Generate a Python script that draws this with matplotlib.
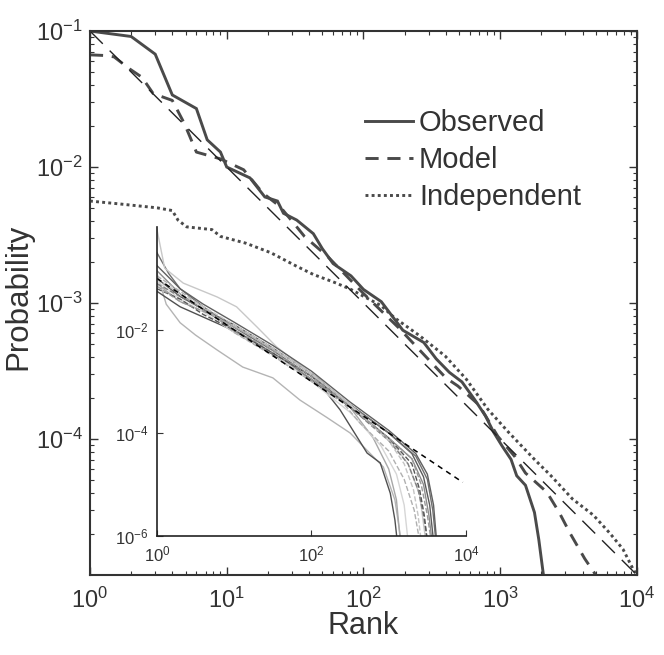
import numpy as np
import matplotlib
matplotlib.use("Agg")
from matplotlib import pyplot as plt

plt.rcParams['font.family'] = ['Liberation Sans', 'DejaVu Sans']
plt.rcParams['mathtext.fontset'] = 'custom'
plt.rcParams['mathtext.rm'] = 'Liberation Sans'
plt.rcParams['mathtext.it'] = 'Liberation Sans:italic'
plt.rcParams['mathtext.bf'] = 'Liberation Sans:bold'

# main panel data (rank, log10 probability)
obs_rank = [1, 2, 3, 4, 6, 7.2, 9, 10, 14.8, 19, 23.5, 26, 32.5, 43, 50, 60, 81, 100,
            135, 194, 276, 340, 425, 525, 650, 780, 895, 1030, 1200, 1320, 1530,
            1780, 1915, 2070]
obs_logp = [-1.0, -1.04, -1.17, -1.47, -1.57, -1.80, -1.89, -2.0, -2.08, -2.22, -2.25,
            -2.34, -2.39, -2.49, -2.60, -2.71, -2.80, -2.90, -2.99, -3.20, -3.29, -3.41,
            -3.51, -3.58, -3.71, -3.83, -3.95, -4.05, -4.15, -4.27, -4.34, -4.54,
            -4.74, -5.0]

mod_rank = [1, 1.3, 1.5, 1.96, 2.4, 2.9, 4, 4.9, 6, 9, 13.3, 18.3, 24.5, 32.5, 37, 55,
            100, 180, 400, 490, 700, 960, 1280, 1530, 2190, 2700, 3230, 4150, 5000]
mod_logp = [-1.175, -1.18, -1.19, -1.28, -1.34, -1.46, -1.51, -1.68, -1.89, -1.94, -2.02,
            -2.19, -2.29, -2.44, -2.51, -2.66, -2.93, -3.18, -3.55, -3.61, -3.75, -3.98,
            -4.13, -4.25, -4.39, -4.54, -4.69, -4.88, -5.0]

ind_rank = [1, 1.6, 3.1, 4, 4.4, 5.1, 7.8, 9, 13.8, 21, 32.5, 43, 62, 81, 100, 135, 167,
            257, 396, 565, 810, 1150, 1780, 2350, 3370, 4800, 6300, 7900, 9400, 10000]
ind_logp = [-2.25, -2.27, -2.30, -2.32, -2.39, -2.44, -2.46, -2.51, -2.56, -2.63, -2.73,
            -2.79, -2.85, -2.90, -2.95, -3.02, -3.105, -3.24, -3.39, -3.56, -3.78, -3.95,
            -4.15, -4.27, -4.44, -4.56, -4.69, -4.81, -4.96, -5.0]

# power law reference line
fit_rank = [1, 10000]
fit_prob = [1e-1, 1e-5]

# inset curves: (log10 rank, log10 prob, colour, style)
inset_curves = [
    ([0, 0.3, 0.6, 1.0, 1.5, 2.0, 2.5, 3.0, 3.3, 3.45, 3.53, 3.58],
     [-1.0, -1.35, -1.6, -1.9, -2.35, -2.85, -3.45, -4.0, -4.4, -4.85, -5.4, -6.1], '#5a5a5a', '-'),
    ([0, 0.15, 0.3, 0.6, 1.0, 1.5, 2.0, 2.5, 3.0, 3.35, 3.5, 3.57, 3.61],
     [-0.5, -0.9, -1.2, -1.55, -1.95, -2.4, -2.9, -3.45, -4.0, -4.45, -4.9, -5.5, -6.1], '#707070', '-'),
    ([0, 0.1, 0.34, 0.78, 1.03, 1.3, 1.55, 2.0, 2.5, 3.0, 3.25, 3.4, 3.48],
     [-0.05, -0.8, -1.09, -1.36, -1.55, -1.95, -2.33, -2.85, -3.45, -4.1, -4.6, -5.2, -6.1], '#c8c8c8', '-'),
    ([0, 0.12, 0.3, 0.5, 0.78, 1.11, 1.5, 1.85, 2.2, 2.5, 2.93, 3.08, 3.16],
     [-0.9, -1.5, -1.86, -2.1, -2.39, -2.72, -2.93, -3.36, -3.7, -4.0, -4.66, -5.3, -6.1], '#b4b4b4', '-'),
    ([0, 0.3, 0.6, 0.9, 1.3, 1.7, 2.17, 2.37, 2.72, 2.89, 3.02, 3.08, 3.11],
     [-1.25, -1.55, -1.75, -1.95, -2.3, -2.65, -3.17, -3.55, -4.39, -4.58, -5.17, -5.69, -6.1], '#505050', '-'),
    ([0, 0.3, 0.7, 1.2, 1.7, 2.1, 2.5, 2.8, 3.0, 3.1, 3.15],
     [-1.1, -1.45, -1.7, -2.1, -2.55, -2.95, -3.5, -4.1, -4.7, -5.3, -6.1], '#a8a8a8', '-'),
    ([0, 0.3, 0.6, 1.0, 1.5, 2.0, 2.5, 3.0, 3.35, 3.5, 3.58, 3.62],
     [-0.75, -1.2, -1.5, -1.85, -2.3, -2.8, -3.4, -3.95, -4.4, -4.8, -5.4, -6.1], '#606060', '-'),
    ([0, 0.3, 0.6, 1.0, 1.5, 2.0, 2.5, 3.0, 3.3, 3.45, 3.52, 3.56],
     [-0.85, -1.3, -1.6, -2.0, -2.45, -2.95, -3.5, -4.1, -4.5, -5.0, -5.6, -6.1], '#8c8c8c', '-'),
    ([0, 0.3, 0.6, 1.0, 1.5, 2.0, 2.5, 2.9, 3.1, 3.2, 3.25],
     [-1.05, -1.4, -1.65, -2.05, -2.45, -3.0, -3.6, -4.25, -4.8, -5.4, -6.1], '#d6d6d6', '-'),
    ([0, 0.3, 0.6, 1.0, 1.5, 2.0, 2.5, 3.0, 3.25, 3.38, 3.45, 3.5],
     [-1.1, -1.35, -1.6, -2.0, -2.45, -2.9, -3.5, -4.15, -4.6, -5.1, -5.6, -6.1], '#808080', '--'),
    ([0, 0.3, 0.6, 1.0, 1.5, 2.0, 2.41, 2.63, 3.0, 3.2, 3.33, 3.4],
     [-0.95, -1.25, -1.55, -2.05, -2.5, -3.0, -3.42, -3.81, -4.35, -4.9, -5.5, -6.1], '#b0b0b0', '--'),
    ([0, 0.3, 0.6, 1.0, 1.5, 2.0, 2.5, 3.0, 3.3, 3.4, 3.46, 3.5],
     [-1.2, -1.4, -1.7, -2.0, -2.45, -2.9, -3.5, -4.1, -4.6, -5.1, -5.6, -6.1], '#555555', '--'),
    ([0, 0.3, 0.6, 1.0, 1.5, 2.0, 2.5, 3.0, 3.2, 3.32, 3.38, 3.42],
     [-1.0, -1.3, -1.55, -1.9, -2.35, -2.85, -3.45, -4.15, -4.6, -5.1, -5.6, -6.1], '#c4c4c4', '--'),
    ([0, 0.3, 0.7, 1.0, 1.5, 2.0, 2.5, 3.0, 3.3, 3.42, 3.5, 3.55],
     [-1.15, -1.45, -1.7, -2.0, -2.4, -2.9, -3.5, -4.1, -4.5, -5.0, -5.6, -6.1], '#999999', '--'),
]
inset_fit_rank = [1, 9100]
inset_fit_prob = [1e-1, 1.1e-5]

main_col = '#4a4a4a'
txt_col = '#333333'

fig = plt.figure(figsize=(6.64, 6.55), dpi=100)
ax = fig.add_axes([0.1355, 0.1221, 0.8238, 0.8305])

l_obs, = ax.plot(obs_rank, 10.0 ** np.array(obs_logp), color=main_col, lw=2.1,
                 label='Observed', solid_joinstyle='miter')
l_mod, = ax.plot(mod_rank, 10.0 ** np.array(mod_logp), color=main_col, lw=2.1,
                 label='Model', dashes=(4.5, 3), dash_capstyle='butt')
l_ind, = ax.plot(ind_rank, 10.0 ** np.array(ind_logp), color=main_col, lw=2.1,
                 label='Independent', dashes=(1, 1.1), dash_capstyle='butt')
ax.plot(fit_rank, fit_prob, color='#222222', lw=1.0, dashes=(13, 7))

ax.set_xscale('log')
ax.set_yscale('log')
ax.set_xlim(1, 1e4)
ax.set_ylim(1e-5, 1e-1)
ax.set_xticks([1, 10, 100, 1000, 10000])
ax.set_yticks([1e-4, 1e-3, 1e-2, 1e-1])
ax.tick_params(which='both', direction='in', top=True, right=True, colors=txt_col,
               labelsize=17)
ax.tick_params(which='major', length=6, width=1.0)
ax.tick_params(which='minor', length=3, width=0.8)
ax.tick_params(axis='x', which='major', pad=9)
ax.tick_params(axis='y', which='major', pad=5)
for sp in ax.spines.values():
    sp.set_linewidth(1.5)
    sp.set_color(txt_col)
ax.set_xlabel('Rank', fontsize=22, color=txt_col, labelpad=-1)
ax.set_ylabel('Probability', fontsize=22.5, color=txt_col)
ax.yaxis.set_label_coords(-0.104, 0.512)

leg = ax.legend(handles=[l_obs, l_mod, l_ind], loc='upper left',
                bbox_to_anchor=(0.503, 0.857), frameon=False, fontsize=21,
                handlelength=1.65, handletextpad=0.2, labelspacing=0.31,
                borderpad=0, borderaxespad=0)
for t in leg.get_texts():
    t.set_color(txt_col)

# inset
ins = fig.add_axes([0.2364, 0.1817, 0.4654, 0.4718])
ins.set_facecolor('none')
for lr, lp, col, ls in inset_curves:
    ins.plot(10.0 ** np.array(lr), 10.0 ** np.array(lp), color=col, lw=1.0, ls=ls)
ins.plot(inset_fit_rank, inset_fit_prob, color='black', lw=1.1, dashes=(3.5, 3))
ins.set_xscale('log')
ins.set_yscale('log')
ins.set_xlim(1, 1e4)
ins.set_ylim(1e-6, 1)
ins.set_xticks([1, 100, 10000])
ins.set_yticks([1e-6, 1e-4, 1e-2])
ins.minorticks_off()
ins.spines['top'].set_visible(False)
ins.spines['right'].set_visible(False)
for s in ['left', 'bottom']:
    ins.spines[s].set_linewidth(1.2)
    ins.spines[s].set_color('#222222')
ins.tick_params(direction='in', length=4, labelsize=12, colors=txt_col, pad=6)

fig.savefig('out.png', dpi=100)
